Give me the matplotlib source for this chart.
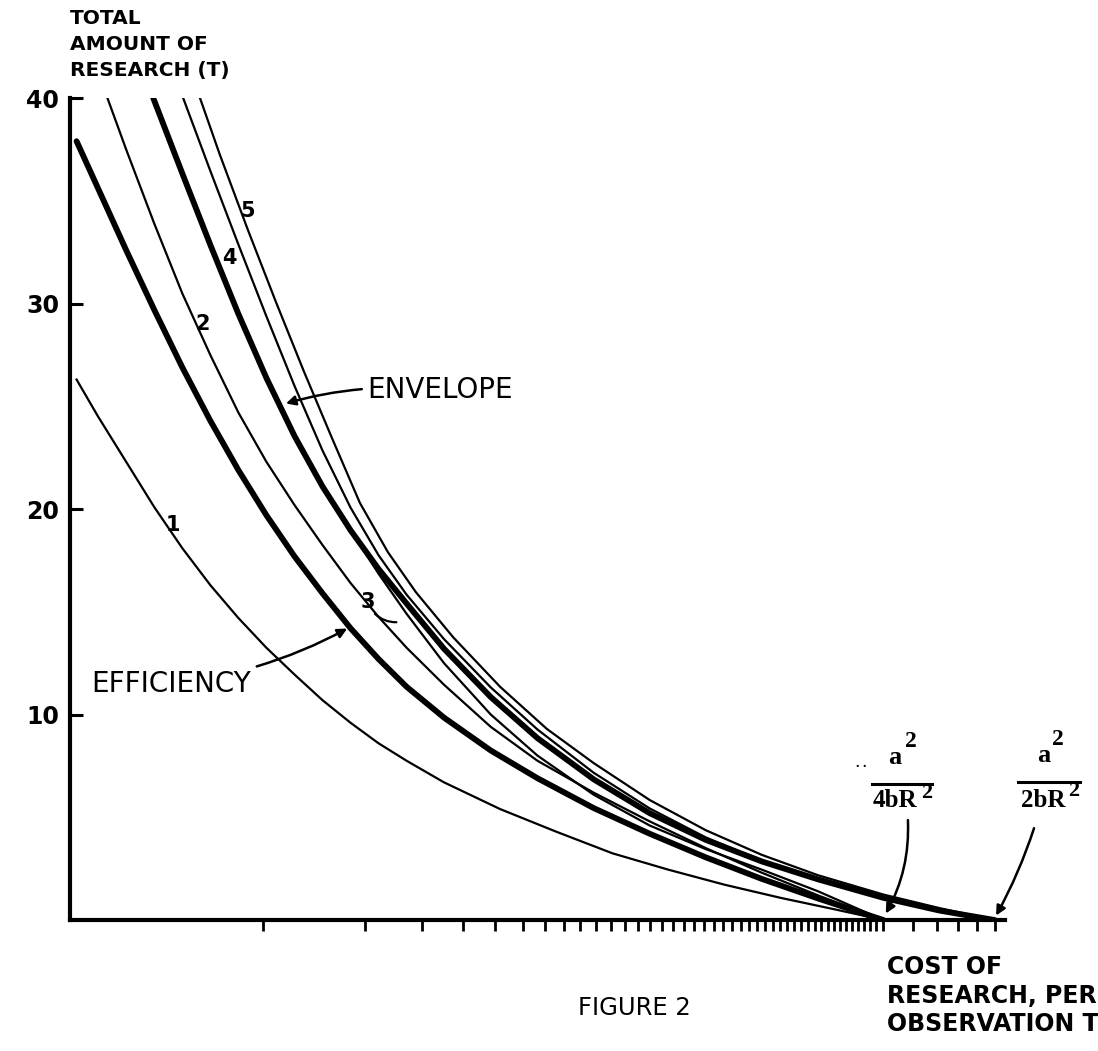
import matplotlib
matplotlib.use("Agg")
import matplotlib.pyplot as plt

# values
# x: position along the cost axis (0-100, no units printed), y: total amount of research T
eff_x = [0.7, 3, 6, 9, 12, 15, 18, 21, 24, 27, 30, 33, 36, 40, 45, 50, 56, 62, 68, 74, 80, 87]
eff_y = [37.9, 35.6, 32.6, 29.7, 26.9, 24.3, 21.9, 19.7, 17.7, 15.9, 14.2, 12.7, 11.35, 9.85,
         8.25, 6.9, 5.45, 4.2, 3.05, 2.0, 1.05, 0.0]

c1_x = [0.7, 3, 6, 9, 12, 15, 18, 21, 24, 27, 30, 33, 36, 40, 46, 52, 58, 64, 70, 76, 82, 87]
c1_y = [26.3, 24.5, 22.3, 20.1, 18.1, 16.3, 14.7, 13.25, 11.95, 10.7, 9.6, 8.6, 7.75, 6.7,
        5.4, 4.3, 3.25, 2.45, 1.72, 1.08, 0.5, 0.0]

c2_x = [4, 6, 9, 12, 15, 18, 21, 24, 27, 30, 33, 36, 40, 45, 50, 56, 62, 68, 74, 80, 87]
c2_y = [40.0, 37.5, 33.9, 30.5, 27.5, 24.7, 22.3, 20.2, 18.25, 16.4, 14.75, 13.25, 11.45, 9.4,
        7.75, 6.2, 4.8, 3.5, 2.3, 1.2, 0.0]

c3_x = [8.9, 12, 15, 18, 21, 24, 27, 30, 33, 36, 40, 45, 50, 56, 62, 68, 74, 80, 87]
c3_y = [40.0, 36.34, 32.86, 29.5, 26.38, 23.56, 21.1, 18.97, 16.85, 14.9, 12.5, 10.0, 8.0,
        6.1, 4.6, 3.45, 2.45, 1.4, 0.0]

c4_x = [12.1, 15, 18, 21, 24, 27, 30, 33, 36, 40, 45, 50, 56, 62, 68, 74, 80, 87, 93, 98.9]
c4_y = [40.0, 36.46, 32.88, 29.38, 26.0, 22.85, 20.07, 17.75, 15.83, 13.67, 11.32, 9.27,
        7.17, 5.43, 4.02, 2.88, 1.98, 1.08, 0.47, 0.0]

c5_x = [13.9, 16, 19, 22, 25, 28, 31, 34, 37, 41, 46, 51, 56, 62, 68, 74, 80, 87, 93, 98.9]
c5_y = [40.0, 37.27, 33.61, 30.1, 26.71, 23.47, 20.3, 17.9, 15.95, 13.75, 11.35, 9.3, 7.64,
        5.84, 4.37, 3.17, 2.18, 1.24, 0.58, 0.0]

env_x = [8.9, 12, 15, 18, 21, 24, 27, 30, 33, 36, 40, 45, 50, 56, 62, 68, 74, 80, 87, 93, 98.9]
env_y = [40.0, 36.34, 32.86, 29.5, 26.38, 23.56, 21.1, 18.97, 17.08, 15.4, 13.2, 10.85, 8.85,
         6.85, 5.2, 3.9, 2.85, 1.98, 1.08, 0.46, 0.0]

# hand-drawn tick marks on the cost axis
cost_ticks = [20.6, 31.6, 37.6, 42.0, 45.5, 48.4, 50.8, 52.8, 54.5, 56.3, 57.9, 59.4, 60.7,
              62.0, 63.3, 64.5, 65.7, 66.7, 67.8, 68.9, 69.8, 70.8, 71.8, 72.6, 73.5, 74.3,
              75.2, 75.9, 76.7, 77.4, 78.2, 78.9, 79.7, 80.3, 81.1, 81.7, 82.4, 83.0, 83.6,
              84.3, 84.9, 85.6, 86.2, 87.0, 90.2, 92.7, 95.0, 97.0, 98.9]
y_ticks = [10, 20, 30, 40]

thin = 1.6
thick = 4.2

fig = plt.figure(figsize=(10.98, 10.51), dpi=100)
ax = fig.add_axes([0.0638, 0.1246, 0.8515, 0.7821])

for xs, ys in [(c1_x, c1_y), (c2_x, c2_y), (c3_x, c3_y), (c4_x, c4_y), (c5_x, c5_y)]:
    ax.plot(xs, ys, color='black', lw=thin, solid_joinstyle='round')
ax.plot(eff_x, eff_y, color='black', lw=thick, solid_joinstyle='round', solid_capstyle='round')
ax.plot(env_x, env_y, color='black', lw=thick, solid_joinstyle='round', solid_capstyle='round')

ax.set_xlim(0, 100)
ax.set_ylim(0, 40)
for side in ['top', 'right']:
    ax.spines[side].set_visible(False)
for side in ['left', 'bottom']:
    ax.spines[side].set_linewidth(3)

ax.set_yticks(y_ticks)
ax.set_yticklabels([str(v) for v in y_ticks], fontsize=17, fontweight='bold')
ax.tick_params(axis='y', direction='in', length=9, width=2.2, pad=8)
ax.set_xticks(cost_ticks)
ax.set_xticklabels([])
ax.tick_params(axis='x', direction='out', length=8, width=2)

# curve numbers
lab = dict(fontsize=15, fontweight='bold', ha='center', va='center')
ax.text(11.0, 19.2, '1', **lab)
ax.text(14.2, 29.0, '2', **lab)
ax.text(31.9, 15.5, '3', **lab)
ax.text(17.0, 32.2, '4', **lab)
ax.text(19.0, 34.5, '5', **lab)
# little hooked leader from "3" to its curve
ax.annotate('', xy=(35.2, 14.5), xytext=(32.4, 15.0),
            arrowprops=dict(arrowstyle='-', lw=1.6, connectionstyle='arc3,rad=0.25'))

# envelope / efficiency call-outs
arrow = dict(arrowstyle='-|>', lw=1.8, color='black', mutation_scale=14)
ax.annotate('ENVELOPE', xy=(22.8, 25.1), xytext=(31.8, 25.8), fontsize=20,
            ha='left', va='center',
            arrowprops=dict(arrow, connectionstyle='arc3,rad=0.1'))
ax.annotate('EFFICIENCY', xy=(29.9, 14.25), xytext=(2.3, 11.5), fontsize=20,
            ha='left', va='center',
            arrowprops=dict(arrow, connectionstyle='arc3,rad=0.1'))

# a^2 / 4bR^2  and  a^2 / 2bR^2 labels
serif = dict(family='Liberation Serif', fontweight='bold', ha='center', va='center')
ax.text(84.6, 7.6, '. .', fontsize=10, **serif)
ax.text(88.2, 7.9, 'a', fontsize=19, **serif)
ax.text(89.9, 8.7, '2', fontsize=17, **serif)
ax.plot([85.8, 92.2], [6.6, 6.6], color='black', lw=2.2, clip_on=False)
ax.text(88.2, 5.8, '4bR', fontsize=18, **serif)
ax.text(91.6, 6.2, '2', fontsize=16, **serif)
ax.annotate('', xy=(87.1, 0.2), xytext=(89.6, 5.0), annotation_clip=False,
            arrowprops=dict(arrow, connectionstyle='arc3,rad=-0.15'))

ax.text(104.1, 8.0, 'a', fontsize=19, **serif)
ax.text(105.7, 8.8, '2', fontsize=17, **serif)
ax.plot([101.4, 108.0], [6.7, 6.7], color='black', lw=2.2, clip_on=False)
ax.text(104.1, 5.8, '2bR', fontsize=18, **serif)
ax.text(107.4, 6.3, '2', fontsize=16, **serif)
ax.annotate('', xy=(98.9, 0.1), xytext=(103.2, 4.6), annotation_clip=False,
            arrowprops=dict(arrow, connectionstyle='arc3,rad=-0.05'))

# axis titles
fig.text(0.064, 0.991, 'TOTAL\nAMOUNT OF\nRESEARCH (T)', fontsize=14.5, fontweight='bold',
         ha='left', va='top', linespacing=1.45)
fig.text(0.808, 0.091, 'COST OF\nRESEARCH, PER\nOBSERVATION T', fontsize=17,
         fontweight='bold', ha='left', va='top', linespacing=1.22)
fig.text(0.578, 0.041, 'FIGURE 2', fontsize=17.5, ha='center', va='center')

fig.savefig('out.png', dpi=100, facecolor='white')
